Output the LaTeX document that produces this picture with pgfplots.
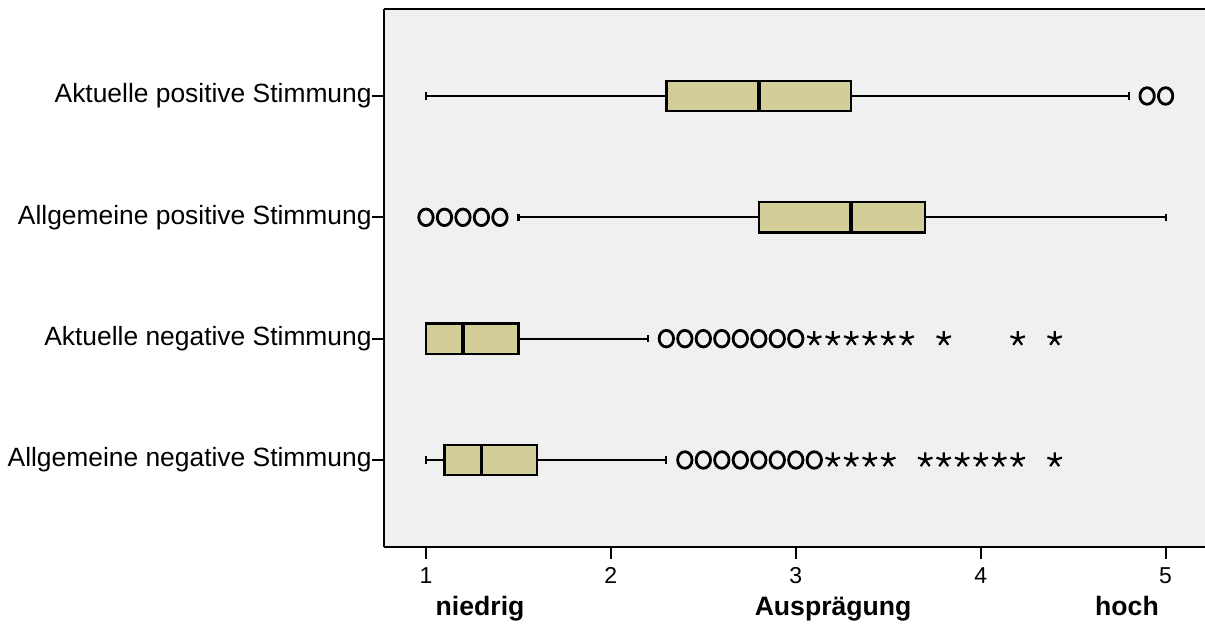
\documentclass[border=0pt]{standalone}
\usepackage{pgfplots}
\pgfplotsset{compat=1.18}
\usepgfplotslibrary{statistics}
\usepackage{fontspec}
\setmainfont{Liberation Sans}
\definecolor{boxfill}{RGB}{211,206,152}
\definecolor{plotbg}{RGB}{240,240,240}

\begin{document}
\begin{tikzpicture}
\begin{axis}[
    scale only axis,
    width=410.5pt, height=269pt,
    xmin=0.773, xmax=5.213,
    ymin=0.283, ymax=4.717,
    axis lines*=left,
    axis line style={-, line width=1.4pt},
    axis background/.style={fill=plotbg},
    xtick={1,2,3,4,5},
    ytick={1,2,3,4},
    yticklabels={Allgemeine negative Stimmung, Aktuelle negative Stimmung, Allgemeine positive Stimmung, Aktuelle positive Stimmung},
    tick align=outside,
    major tick length=6pt,
    tick style={black, line width=1pt},
    xticklabel style={font=\fontsize{11.5}{13}\selectfont, anchor=north, inner sep=0pt, yshift=-4pt},
    yticklabel style={font=\fontsize{13.2}{15}\selectfont, anchor=east, inner sep=0pt, xshift=0pt},
    /pgf/number format/assume math mode=true,
    clip=false,
    boxplot/draw direction=x,
    boxplot/box extend=0.25,
    boxplot/whisker extend=0.06,
    boxplot/every box/.style={fill=boxfill, draw=black, line width=1.2pt},
    boxplot/every whisker/.style={black, line width=1.1pt},
    boxplot/every median/.style={black, line width=1.8pt},
]
% boxes: Aktuelle positive, Allgemeine positive, Aktuelle negative, Allgemeine negative
\addplot[boxplot prepared={draw position=4, lower whisker=1.0, lower quartile=2.3,
    median=2.8, upper quartile=3.3, upper whisker=4.8}] coordinates {};
\addplot[boxplot prepared={draw position=3, lower whisker=1.5, lower quartile=2.8,
    median=3.3, upper quartile=3.7, upper whisker=5.0}] coordinates {};
\addplot[boxplot prepared={draw position=2, lower whisker=1.0, lower quartile=1.0,
    median=1.2, upper quartile=1.5, upper whisker=2.2}] coordinates {};
\addplot[boxplot prepared={draw position=1, lower whisker=1.0, lower quartile=1.1,
    median=1.3, upper quartile=1.6, upper whisker=2.3}] coordinates {};

% outliers
\addplot[only marks, mark=o, mark size=3.6pt, mark options={black, line width=1.4pt, yscale=1.15}]
coordinates {
    (4.9,4) (5.0,4)
    (1.0,3) (1.1,3) (1.2,3) (1.3,3) (1.4,3)
    (2.3,2) (2.4,2) (2.5,2) (2.6,2) (2.7,2) (2.8,2) (2.9,2) (3.0,2)
    (2.4,1) (2.5,1) (2.6,1) (2.7,1) (2.8,1) (2.9,1) (3.0,1) (3.1,1)
};
% extremes
\addplot[only marks, mark=star, mark size=3.8pt, mark options={black, line width=1.1pt}]
coordinates {
    (3.1,2) (3.2,2) (3.3,2) (3.4,2) (3.5,2) (3.6,2) (3.8,2) (4.2,2) (4.4,2)
    (3.2,1) (3.3,1) (3.4,1) (3.5,1) (3.7,1) (3.8,1) (3.9,1) (4.0,1) (4.1,1) (4.2,1) (4.4,1)
};

\draw[line width=1.4pt] (rel axis cs:0,1) -- (rel axis cs:1,1);
\node[anchor=base, font=\bfseries\fontsize{13.3}{16}\selectfont] at (axis description cs:0.117,-0.128) {niedrig};
\node[anchor=base, font=\bfseries\fontsize{13.3}{16}\selectfont] at (axis description cs:0.547,-0.128) {Ausprägung};
\node[anchor=base, font=\bfseries\fontsize{13.3}{16}\selectfont] at (axis description cs:0.905,-0.128) {hoch};
\coordinate (sw) at (rel axis cs:0,0);
\coordinate (ne) at (rel axis cs:1,1);
\end{axis}
\pgfresetboundingbox
\path ([xshift=-192pt,yshift=-38.5pt]sw) rectangle ([yshift=4.5pt]ne);
\end{tikzpicture}
\end{document}
